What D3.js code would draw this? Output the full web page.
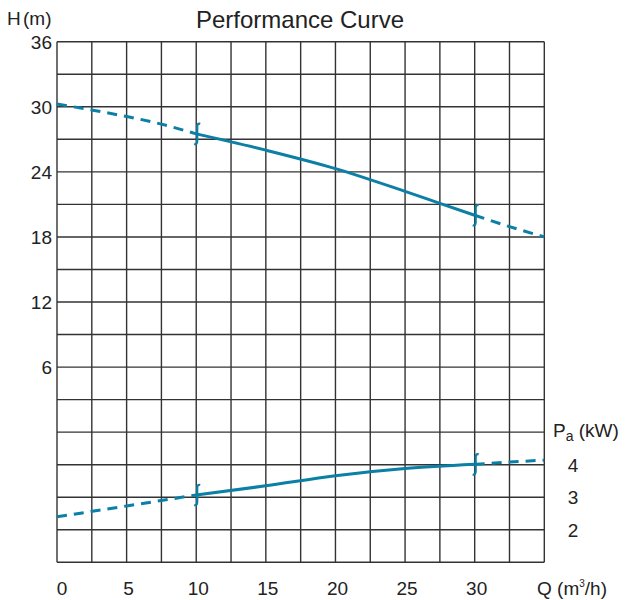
<!DOCTYPE html>
<html>
<head>
<meta charset="utf-8">
<script src="https://cdn.jsdelivr.net/npm/d3@7"></script>
<style>
body { margin: 0; background: #fff; }
text { font-family: "Liberation Sans", Arial, sans-serif; fill: #222; }
</style>
</head>
<body>
<svg id="chart" width="625" height="600"></svg>
<script>
// flow Q (m3/h) vs head H (m) and shaft power Pa (kW)
var headQ = [0, 2.5, 5, 7.5, 10, 15, 20, 25, 27.5, 30, 32.5, 35];
var headH = [30.25, 29.7, 29.1, 28.4, 27.5, 26.0, 24.3, 22.2, 21.1, 20.0, 18.95, 18.0];
var powerQ = [0, 5, 10, 15, 20, 25, 30, 32.5, 35];
var powerP = [2.4, 2.73, 3.07, 3.35, 3.66, 3.88, 4.01, 4.08, 4.14];
var qTicks = [0, 5, 10, 15, 20, 25, 30];
var hTicks = [6, 12, 18, 24, 30, 36];
var pTicks = [2, 3, 4];
var workRange = [10, 30];

var color = "#0b7fa5";
var svg = d3.select("#chart");

var x = d3.scaleLinear().domain([0, 35]).range([57, 544.3]);
var y = d3.scaleLinear().domain([-12, 36]).range([562.3, 41.7]);
var yp = d3.scaleLinear().domain([1, 17]).range([562.3, 41.7]);

// grid
var g = svg.append("g").attr("stroke", "#333").attr("stroke-width", 1.4);
g.selectAll("line.v").data(d3.range(0, 35.01, 2.5)).enter().append("line")
	.attr("x1", function(d) {return x(d);}).attr("x2", function(d) {return x(d);})
	.attr("y1", y(36)).attr("y2", y(-12));
g.selectAll("line.h").data(d3.range(-12, 36.01, 3)).enter().append("line")
	.attr("x1", x(0)).attr("x2", x(35))
	.attr("y1", function(d) {return y(d);}).attr("y2", function(d) {return y(d);});

// labels
svg.append("text").attr("x", 300).attr("y", 28).attr("text-anchor", "middle")
	.style("font-size", "24px").text("Performance Curve");
svg.append("text").attr("x", 7).attr("y", 25).style("font-size", "19px").text("H");
svg.append("text").attr("x", 23).attr("y", 25).style("font-size", "19px").text("(m)");

svg.selectAll("text.h").data(hTicks).enter().append("text")
	.attr("x", 52).attr("y", function(d) {return y(d);}).attr("dy", "0.36em")
	.attr("text-anchor", "end").style("font-size", "19px")
	.text(function(d) {return d;});

svg.selectAll("text.q").data(qTicks).enter().append("text")
	.attr("x", function(d) {return d == 0 ? x(d) + 5 : x(d) + 2;}).attr("y", 595)
	.attr("text-anchor", "middle").style("font-size", "19px")
	.text(function(d) {return d;});

svg.selectAll("text.p").data(pTicks).enter().append("text")
	.attr("x", 573).attr("y", function(d) {return yp(d);}).attr("dy", "0.36em")
	.attr("text-anchor", "middle").style("font-size", "19px")
	.text(function(d) {return d;});

var pl = svg.append("text").attr("x", 553).attr("y", 437).style("font-size", "19px");
pl.append("tspan").text("P");
pl.append("tspan").attr("dy", 4).style("font-size", "14px").text("a");
pl.append("tspan").attr("dy", -4).text(" (kW)");

var ql = svg.append("text").attr("x", 537).attr("y", 595).style("font-size", "19px");
ql.append("tspan").text("Q (m");
ql.append("tspan").attr("dy", -8).style("font-size", "10px").text("3");
ql.append("tspan").attr("dy", 8).text("/h)");

// curves
function drawCurve(qs, vs, scale) {
	var pts = qs.map(function(q, i) {return [q, vs[i]];});
	var line = d3.line().curve(d3.curveMonotoneX)
		.x(function(d) {return x(d[0]);}).y(function(d) {return scale(d[1]);});
	var parts = [
		{pts: pts.filter(function(d) {return d[0] <= workRange[0];}), dash: "10,7"},
		{pts: pts.filter(function(d) {return d[0] >= workRange[0] && d[0] <= workRange[1];}), dash: null},
		{pts: pts.filter(function(d) {return d[0] >= workRange[1];}), dash: "10,7"}
	];
	parts.forEach(function(p) {
		svg.append("path").attr("d", line(p.pts))
			.attr("fill", "none").attr("stroke", color).attr("stroke-width", 3)
			.attr("stroke-dasharray", p.dash);
	});
	// break marks
	workRange.forEach(function(q) {
		var v = vs[qs.indexOf(q)];
		var cx = x(q), cy = scale(v);
		svg.append("path")
			.attr("d", "M" + (cx + 4) + "," + (cy - 10) + " q-3,-1 -3,3 v14 q0,4 -3,3")
			.attr("fill", "none").attr("stroke", color).attr("stroke-width", 2.2);
	});
}
drawCurve(headQ, headH, y);
drawCurve(powerQ, powerP, yp);
</script>
</body>
</html>
